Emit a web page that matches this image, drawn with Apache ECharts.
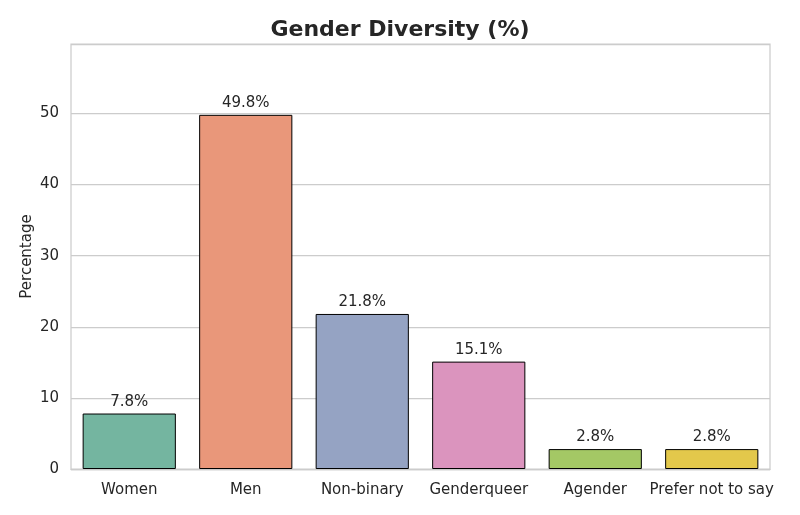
<!DOCTYPE html>
<html>
<head>
<meta charset="utf-8">
<script src="https://cdn.jsdelivr.net/npm/echarts@6/dist/echarts.min.js"></script>
<style>html,body{margin:0;padding:0;background:#fff;}#c{width:800px;height:515px;}</style>
</head>
<body>
<div id="c"></div>
<script>
const categories = ["Women", "Men", "Non-binary", "Genderqueer", "Agender", "Prefer not to say"];
const values = [7.8, 49.8, 21.8, 15.1, 2.8, 2.8];
const colors = ["#74b5a0", "#e9977a", "#95a3c3", "#db94be", "#a4c865", "#e3c84b"];
const yTicks = [0, 10, 20, 30, 40, 50];

const chart = echarts.init(document.getElementById('c'), null, {renderer: 'canvas'});
const font = 'DejaVu Sans';
chart.setOption({
  animation: false,
  backgroundColor: '#ffffff',
  title: {
    text: 'Gender Diversity (%)',
    left: 'center',
    top: 14,
    textStyle: {fontFamily: font, fontSize: 22, fontWeight: 'bold', color: '#262626'}
  },
  grid: {
    left: 71, right: 30, top: 44, bottom: 46,
    show: true, borderColor: '#cccccc', borderWidth: 1.25, backgroundColor: 'transparent'
  },
  xAxis: {
    type: 'category',
    data: categories,
    axisLine: {show: true, lineStyle: {color: '#cccccc', width: 1.25}},
    axisTick: {show: false},
    axisLabel: {fontFamily: font, fontSize: 15, color: '#262626', margin: 14, interval: 0}
  },
  yAxis: {
    type: 'value',
    min: 0,
    max: 59.76,
    interval: 10,
    name: 'Percentage',
    nameLocation: 'middle',
    nameGap: 36,
    nameMoveOverlap: false,
    nameTextStyle: {fontFamily: font, fontSize: 15, color: '#262626'},
    axisLine: {show: false},
    axisTick: {show: false},
    splitLine: {lineStyle: {color: '#cccccc', width: 1.25}},
    axisLabel: {
      fontFamily: font, fontSize: 15, color: '#262626', margin: 12,
      showMaxLabel: false,
      formatter: v => yTicks.includes(v) ? String(v) : ''
    }
  },
  series: [{
    type: 'bar',
    data: values.map((v, i) => ({value: v, itemStyle: {color: colors[i]}})),
    barCategoryGap: '20%',
    itemStyle: {borderColor: '#000000', borderWidth: 1},
    label: {
      show: true, position: 'top', distance: 4,
      formatter: p => p.value.toFixed(1) + '%',
      fontFamily: font, fontSize: 15, color: '#262626'
    }
  }]
});
</script>
</body>
</html>
